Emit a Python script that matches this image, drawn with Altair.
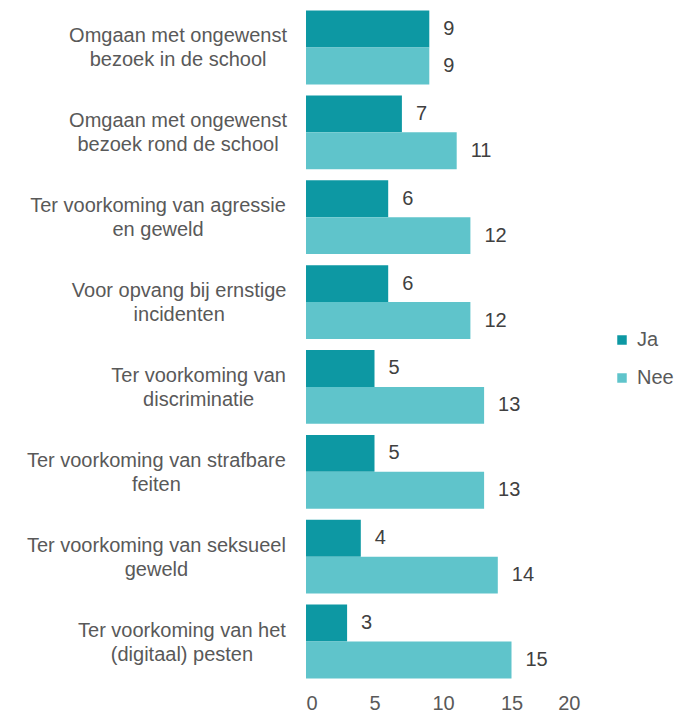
import altair as alt
import pandas as pd

categories = [
    "Omgaan met ongewenst|bezoek in de school",
    "Omgaan met ongewenst|bezoek rond de school",
    "Ter voorkoming van agressie|en geweld",
    "Voor opvang bij ernstige|incidenten",
    "Ter voorkoming van|discriminatie",
    "Ter voorkoming van strafbare|feiten",
    "Ter voorkoming van seksueel|geweld",
    "Ter voorkoming van het|(digitaal) pesten",
]
series = ["Ja", "Nee"]
ja = [9, 7, 6, 6, 5, 5, 4, 3]
nee = [9, 11, 12, 12, 13, 13, 14, 15]
x_ticks = [0, 5, 10, 15, 20]
colors = ["#0D98A3", "#5FC4CB"]

FONT = "Liberation Sans"
TEXT_COLOR = "#595959"
FS = 20

# Arial / Liberation Sans advance widths (per 1000 em) for label centering
_W = {" ": 278, "(": 333, ")": 333, "a": 556, "b": 556, "c": 500, "d": 556, "e": 556,
      "f": 278, "g": 556, "h": 556, "i": 222, "j": 222, "k": 500, "l": 222, "m": 833,
      "n": 556, "o": 556, "p": 556, "q": 556, "r": 333, "s": 500, "t": 278, "u": 556,
      "v": 500, "w": 722, "x": 500, "y": 500, "z": 500, "O": 778, "T": 611, "V": 667}


def text_width(s, size=FS):
    return sum(_W.get(ch, 556) for ch in s) * size / 1000.0


rows = []
for c, a, b in zip(categories, ja, nee):
    rows.append({"cat": c, "series": "Ja", "value": a})
    rows.append({"cat": c, "series": "Nee", "value": b})
df = pd.DataFrame(rows)

RIGHT_EDGE = -19
lab_rows = []
for c in categories:
    l1, l2 = c.split("|")
    w = max(text_width(l1), text_width(l2))
    lab_rows.append({"cat": c, "line1": l1, "line2": l2, "xc": RIGHT_EDGE - w / 2.0})
labels_df = pd.DataFrame(lab_rows)

yscale = alt.Scale(paddingInner=0.13, paddingOuter=0.03)
y_enc = alt.Y("cat:N", sort=categories, scale=yscale, axis=None)

bars = alt.Chart(df).mark_bar().encode(
    y=alt.Y("cat:N", sort=categories, scale=yscale,
            axis=alt.Axis(labels=False, ticks=False, title=None, grid=False,
                          domainColor="#d9d9d9", domainWidth=1)),
    yOffset=alt.YOffset("series:N", sort=series,
                        scale=alt.Scale(paddingInner=0, paddingOuter=0)),
    x=alt.X("value:Q", scale=alt.Scale(domain=[0, 20]),
            axis=alt.Axis(values=x_ticks, grid=False, domain=False, ticks=False,
                          labelFontSize=FS, labelFont=FONT, labelColor=TEXT_COLOR,
                          labelPadding=12, title=None)),
    color=alt.Color("series:N", sort=series,
                    scale=alt.Scale(domain=series, range=colors),
                    legend=alt.Legend(title=None, orient="none", legendX=306, legendY=322,
                                      symbolType="square", symbolSize=90,
                                      symbolStrokeWidth=0, labelFontSize=FS,
                                      labelFont=FONT, labelColor=TEXT_COLOR,
                                      rowPadding=18, labelOffset=5)),
)

values = alt.Chart(df).mark_text(align="left", baseline="middle", dx=14,
                                 fontSize=FS, font=FONT, color="#404040").encode(
    y=y_enc,
    yOffset=alt.YOffset("series:N", sort=series,
                        scale=alt.Scale(paddingInner=0, paddingOuter=0)),
    x=alt.X("value:Q"),
    text=alt.Text("value:Q"),
)

line1 = alt.Chart(labels_df).mark_text(align="center", baseline="middle", dy=-11,
                                       fontSize=FS, font=FONT, color=TEXT_COLOR).encode(
    y=y_enc,
    x=alt.X("xc:Q", scale=None, axis=None),
    text="line1:N",
)
line2 = alt.Chart(labels_df).mark_text(align="center", baseline="middle", dy=13,
                                       fontSize=FS, font=FONT, color=TEXT_COLOR).encode(
    y=y_enc,
    x=alt.X("xc:Q", scale=None, axis=None),
    text="line2:N",
)

chart = alt.layer(bars, values, line1, line2).properties(
    width=274, height=673,
    autosize=alt.AutoSizeParams(type="none"),
    padding={"left": 298, "top": 0, "right": 95, "bottom": 32},
).configure_view(stroke=None)

chart.save("out.html", embed_options={"renderer": "svg", "actions": False})
